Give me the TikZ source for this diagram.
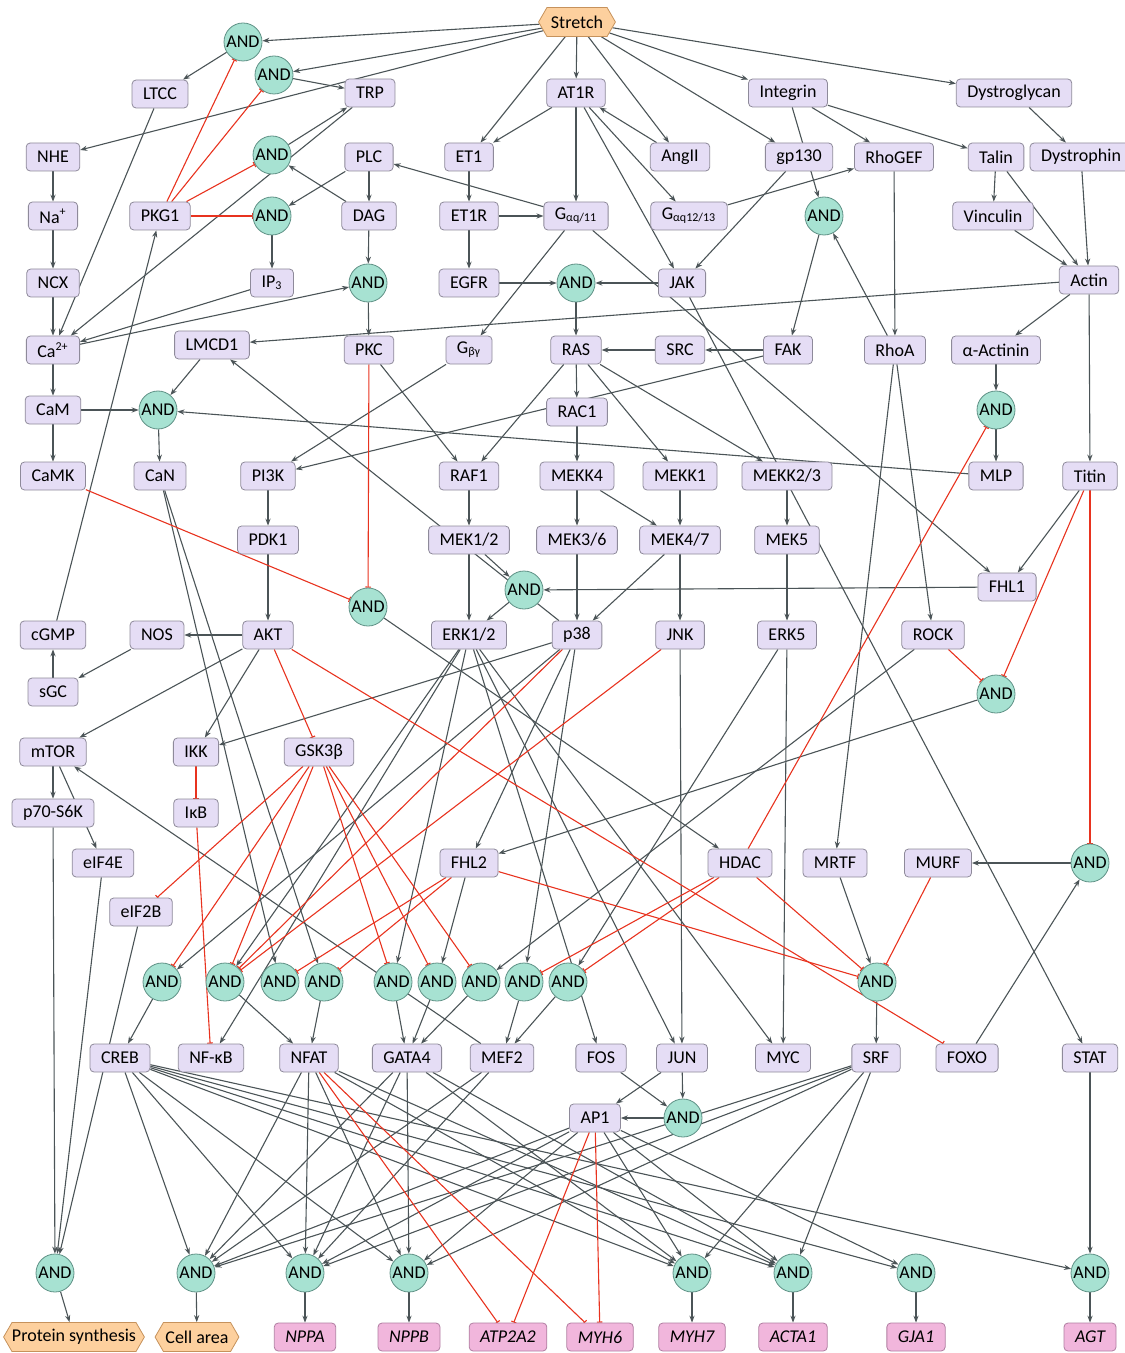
\documentclass[tikz,border=0pt]{standalone}
\usepackage{fontspec}
\setmainfont{Carlito}
\usetikzlibrary{arrows.meta,shapes.symbols}
\pgfdeclarelayer{edges}
\pgfsetlayers{edges,main}

\begin{document}
\begin{tikzpicture}[x=0.5pt, y=-0.5pt, font=\fontsize{9}{11}\selectfont,
    prot/.style={draw=boxBorder, fill=boxFill, rounded corners=2pt, minimum height=14pt, minimum width=21pt, inner xsep=5.5pt, inner ysep=0pt},
    gene/.style={prot, draw=geneBorder, fill=geneFill, font=\fontsize{9}{11}\selectfont\itshape},
    stim/.style={signal, signal to=east and west, signal pointer angle=120, draw=stimBorder, fill=stimFill, minimum height=14.5pt, inner xsep=2pt, inner ysep=0pt},
    gate/.style={circle, draw=gateBorder, fill=gateFill, minimum size=19pt, inner sep=0pt},
    act/.style={draw=edgeColour, line width=0.55pt, -{Stealth[length=3.5pt,width=2.6pt]}},
    inh/.style={draw=inhColour, line width=0.55pt, -{Bar[width=2.8pt]}}]

    \definecolor{boxFill}{HTML}{E5DDF5}
    \definecolor{boxBorder}{HTML}{8E8A9A}
    \definecolor{gateFill}{HTML}{A7E2D2}
    \definecolor{gateBorder}{HTML}{5F9186}
    \definecolor{stimFill}{HTML}{FDD09E}
    \definecolor{stimBorder}{HTML}{C6925C}
    \definecolor{geneFill}{HTML}{F1B6DC}
    \definecolor{geneBorder}{HTML}{B07EA1}
    \definecolor{edgeColour}{HTML}{4B5457}
    \definecolor{inhColour}{HTML}{E8331F}

    \useasboundingbox (0,0) rectangle (1124,1353);

    % Inputs and membrane level
    \node[stim] (stretch) at (577,22) {Stretch};
    \node[gate] (aLTCC) at (243,42) {AND};
    \node[gate] (aTRPa) at (274,75) {AND};
    \node[prot] (ltcc) at (160,94) {LTCC};
    \node[prot] (trp) at (370,93) {TRP};
    \node[prot] (at1r) at (576,93) {AT1R};
    \node[prot] (integrin) at (788,93) {Integrin};
    \node[prot] (dystroglycan) at (1014,93) {Dystroglycan};

    \node[prot] (nhe) at (53,157) {NHE};
    \node[gate] (aTRPb) at (272,155) {AND};
    \node[prot] (plc) at (369,157) {PLC};
    \node[prot] (et1) at (469,157) {ET1};
    \node[prot] (angII) at (680,157) {AngII};
    \node[prot] (gp130) at (799,157) {gp130};
    \node[prot] (rhogef) at (894,157) {RhoGEF};
    \node[prot] (talin) at (996,157) {Talin};
    \node[prot] (dystrophin) at (1081,157) {Dystrophin};

    \node[prot] (na) at (53,216) {Na\textsuperscript{+}};
    \node[prot] (pkg1) at (160,216) {PKG1};
    \node[gate] (aIP3) at (272,216) {AND};
    \node[prot] (dag) at (369,216) {DAG};
    \node[prot] (et1r) at (469,216) {ET1R};
    \node[prot] (gaq11) at (576,216) {G\textsubscript{αq/11}};
    \node[prot] (gaq1213) at (689,216) {G\textsubscript{αq12/13}};
    \node[gate] (aFAK) at (824,216) {AND};
    \node[prot] (vinculin) at (993,216) {Vinculin};

    \node[prot] (ncx) at (53,283) {NCX};
    \node[prot] (ip3) at (272,283) {IP\textsubscript{3}};
    \node[gate] (aPKC) at (368,283) {AND};
    \node[prot] (egfr) at (469,283) {EGFR};
    \node[gate] (aRAS) at (576,283) {AND};
    \node[prot] (jak) at (682,283) {JAK};
    \node[prot] (actin) at (1089,280) {Actin};

    % Second messengers and kinases
    \node[prot] (ca) at (53,350) {Ca\textsuperscript{2+}};
    \node[prot] (lmcd1) at (212,345) {LMCD1};
    \node[prot] (pkc) at (369,350) {PKC};
    \node[prot] (gbg) at (469,350) {G\textsubscript{βγ}};
    \node[prot] (ras) at (576,350) {RAS};
    \node[prot] (src) at (680,350) {SRC};
    \node[prot] (fak) at (788,350) {FAK};
    \node[prot] (rhoa) at (895,350) {RhoA};
    \node[prot] (aactinin) at (996,350) {α-Actinin};

    \node[prot] (cam) at (53,410) {CaM};
    \node[gate] (aCaN) at (158,410) {AND};
    \node[prot] (rac1) at (577,412) {RAC1};
    \node[gate] (aMLP) at (996,410) {AND};

    \node[prot] (camk) at (53,476) {CaMK};
    \node[prot] (can) at (160,476) {CaN};
    \node[prot] (pi3k) at (268,476) {PI3K};
    \node[prot] (raf1) at (469,476) {RAF1};
    \node[prot] (mekk4) at (577,476) {MEKK4};
    \node[prot] (mekk1) at (680,476) {MEKK1};
    \node[prot] (mekk23) at (787,476) {MEKK2/3};
    \node[prot] (mlp) at (996,476) {MLP};
    \node[prot] (titin) at (1090,476) {Titin};

    \node[prot] (pdk1) at (268,540) {PDK1};
    \node[prot] (mek12) at (469,540) {MEK1/2};
    \node[prot] (mek36) at (577,540) {MEK3/6};
    \node[prot] (mek47) at (680,540) {MEK4/7};
    \node[prot] (mek5) at (787,540) {MEK5};

    \node[gate] (aERK) at (524,590) {AND};
    \node[prot] (fhl1) at (1007,587) {FHL1};
    \node[gate] (aHDAC) at (368,607) {AND};

    \node[prot] (cgmp) at (53,635) {cGMP};
    \node[prot] (nos) at (157,635) {NOS};
    \node[prot] (akt) at (268,635) {AKT};
    \node[prot] (erk12) at (469,635) {ERK1/2};
    \node[prot] (p38) at (577,635) {p38};
    \node[prot] (jnk) at (680,635) {JNK};
    \node[prot] (erk5) at (787,635) {ERK5};
    \node[prot] (rock) at (933,635) {ROCK};

    \node[prot] (sgc) at (53,692) {sGC};
    \node[gate] (aFHL2) at (996,694) {AND};

    \node[prot] (mtor) at (53,752) {mTOR};
    \node[prot] (ikk) at (196,752) {IKK};
    \node[prot] (gsk3b) at (319,752) {GSK3β};
    \node[prot] (p70s6k) at (53,813) {p70-S6K};
    \node[prot] (ikb) at (196,813) {IκB};

    \node[prot] (eif4e) at (103,863) {eIF4E};
    \node[prot] (fhl2) at (469,863) {FHL2};
    \node[prot] (hdac) at (740,863) {HDAC};
    \node[prot] (mrtf) at (835,863) {MRTF};
    \node[prot] (murf) at (938,863) {MURF};
    \node[gate] (aMURF) at (1090,863) {AND};
    \node[prot] (eif2b) at (141,912) {eIF2B};

    % Row of gates above the transcription factors
    \foreach \n/\x in {1/162, 2/225, 3/280, 4/324, 5/393, 6/437, 7/481, 8/524, 9/568}
        \node[gate] (r\n) at (\x,982) {AND};
    \node[gate] (aSRF) at (877,982) {AND};

    % Transcription factors
    \node[prot] (creb) at (120,1058) {CREB};
    \node[prot] (nfkb) at (211,1058) {NF-κB};
    \node[prot] (nfat) at (309,1058) {NFAT};
    \node[prot] (gata4) at (407,1058) {GATA4};
    \node[prot] (mef2) at (502,1058) {MEF2};
    \node[prot] (fos) at (601,1058) {FOS};
    \node[prot] (jun) at (682,1058) {JUN};
    \node[prot] (myc) at (783,1058) {MYC};
    \node[prot] (srf) at (876,1058) {SRF};
    \node[prot] (foxo) at (967,1058) {FOXO};
    \node[prot] (stat) at (1090,1058) {STAT};
    \node[prot] (ap1) at (595,1118) {AP1};
    \node[gate] (aAP1) at (683,1118) {AND};

    % Outputs
    \foreach \n/\x in {1/55, 2/196, 3/305, 4/409, 5/692, 6/793, 7/916, 8/1090}
        \node[gate] (o\n) at (\x,1273) {AND};
    \node[stim, inner xsep=0pt] (protsyn) at (74,1337) {Protein synthesis};
    \node[stim, inner xsep=1pt] (cellarea) at (197,1337) {Cell area};
    \node[gene] (nppa) at (305,1337) {NPPA};
    \node[gene] (nppb) at (409,1337) {NPPB};
    \node[gene] (atp2a2) at (508,1337) {ATP2A2};
    \node[gene] (myh6) at (600,1337) {MYH6};
    \node[gene] (myh7) at (692,1337) {MYH7};
    \node[gene] (acta1) at (793,1337) {ACTA1};
    \node[gene] (gja1) at (916,1337) {GJA1};
    \node[gene] (agt) at (1090,1337) {AGT};

    \begin{pgfonlayer}{edges}
    % Activating links
    \foreach \a/\b in {stretch/aLTCC, stretch/aTRPa, stretch/nhe, stretch/at1r, stretch/et1,
        stretch/angII, stretch/gp130, stretch/integrin, stretch/dystroglycan,
        aLTCC/ltcc, aTRPa/trp, aTRPb/trp, ltcc/ca, trp/ca, nhe/na, na/ncx, ncx/ca, ip3/ca,
        ca/aPKC, plc/aIP3, plc/dag, dag/aTRPb, dag/aPKC, aIP3/ip3, aPKC/pkc,
        at1r/et1, angII/at1r, at1r/gaq11, at1r/jak, at1r/gaq1213, et1/et1r, et1r/gaq11,
        et1r/egfr, gaq11/plc, gaq11/gbg, gaq11/fhl1, egfr/aRAS, jak/aRAS, jak/stat,
        gp130/jak, gaq1213/rhogef, integrin/aFAK, integrin/rhogef, integrin/talin,
        dystroglycan/dystrophin, talin/vinculin, talin/actin, vinculin/actin,
        dystrophin/actin, rhogef/rhoa, rhoa/aFAK, aFAK/fak, fak/src, fak/pi3k, src/ras,
        aRAS/ras, actin/lmcd1, actin/aactinin, actin/titin, aactinin/aMLP, aMLP/mlp,
        mlp/aCaN, titin/fhl1, fhl1/aERK, ca/cam, cam/aCaN, cam/camk, lmcd1/aCaN,
        aCaN/can, cgmp/pkg1, gbg/pi3k, pkc/raf1, ras/rac1, ras/raf1, ras/mekk1,
        ras/mekk23, rac1/mekk4, pi3k/pdk1, pdk1/akt, raf1/mek12, mekk4/mek36,
        mekk4/mek47, mekk1/mek47, mekk23/mek5, mek12/erk12, mek12/aERK, aERK/erk12,
        p38/lmcd1, mek36/p38, mek47/p38, mek47/jnk, mek5/erk5}
        \draw[act] (\a) -- (\b);
    \foreach \a/\b in {akt/nos, nos/sgc, sgc/cgmp, akt/mtor, akt/ikk, p38/ikk,
        mtor/p70s6k, mtor/eif4e, rhoa/rock, rhoa/mrtf, aFHL2/fhl2, aHDAC/hdac,
        p38/r1, r1/creb, erk12/r2, r2/nfat, can/r3, can/r4, r4/nfat, erk12/r5, r5/gata4,
        fhl2/r6, r6/gata4, rock/r7, r7/gata4, p38/r8, r8/mef2, erk5/r9, r9/mef2,
        erk12/nfkb, erk12/fos, erk12/jun, erk12/myc, erk5/myc, jnk/jun, p38/fhl2,
        mef2/mtor, fos/aAP1, jun/aAP1, jun/ap1, aAP1/ap1, mrtf/aSRF, aSRF/srf,
        aMURF/murf, foxo/aMURF, stat/o8}
        \draw[act] (\a) -- (\b);
    % Transcription factors to gene programmes
    \foreach \a/\b in {p70s6k/o1, eif4e/o1, eif2b/o1,
        creb/o2, creb/o3, creb/o4, creb/o5, creb/o6, creb/o7, creb/o8,
        nfat/o2, nfat/o3, nfat/o4, nfat/o5, nfat/o6,
        gata4/o2, gata4/o3, gata4/o4, gata4/o5, gata4/o6,
        mef2/o2, mef2/o3, ap1/o2, ap1/o3, ap1/o4, ap1/o5, ap1/o6, ap1/o7,
        srf/o2, srf/o3, srf/o4, srf/o5, srf/o6,
        o1/protsyn, o2/cellarea, o3/nppa, o4/nppb, o5/myh7, o6/acta1, o7/gja1, o8/agt}
        \draw[act] (\a) -- (\b);

    % Inhibiting links
    \foreach \a/\b in {pkg1/aLTCC, pkg1/aTRPa, pkg1/aTRPb, pkg1/aIP3, pkc/aHDAC,
        camk/aHDAC, akt/gsk3b, akt/foxo, ikk/ikb, ikb/nfkb,
        gsk3b/eif2b, gsk3b/r1, gsk3b/r2, gsk3b/r5, gsk3b/r6, gsk3b/r7,
        p38/r2, jnk/r2, fhl2/r3, fhl2/r4, fhl2/aSRF, hdac/aMLP, hdac/r8, hdac/r9,
        hdac/aSRF, rock/aFHL2, titin/aFHL2, titin/aMURF, murf/aSRF,
        nfat/atp2a2, nfat/myh6, ap1/atp2a2, ap1/myh6}
        \draw[inh] (\a) -- (\b);
    \end{pgfonlayer}

\end{tikzpicture}
\end{document}
